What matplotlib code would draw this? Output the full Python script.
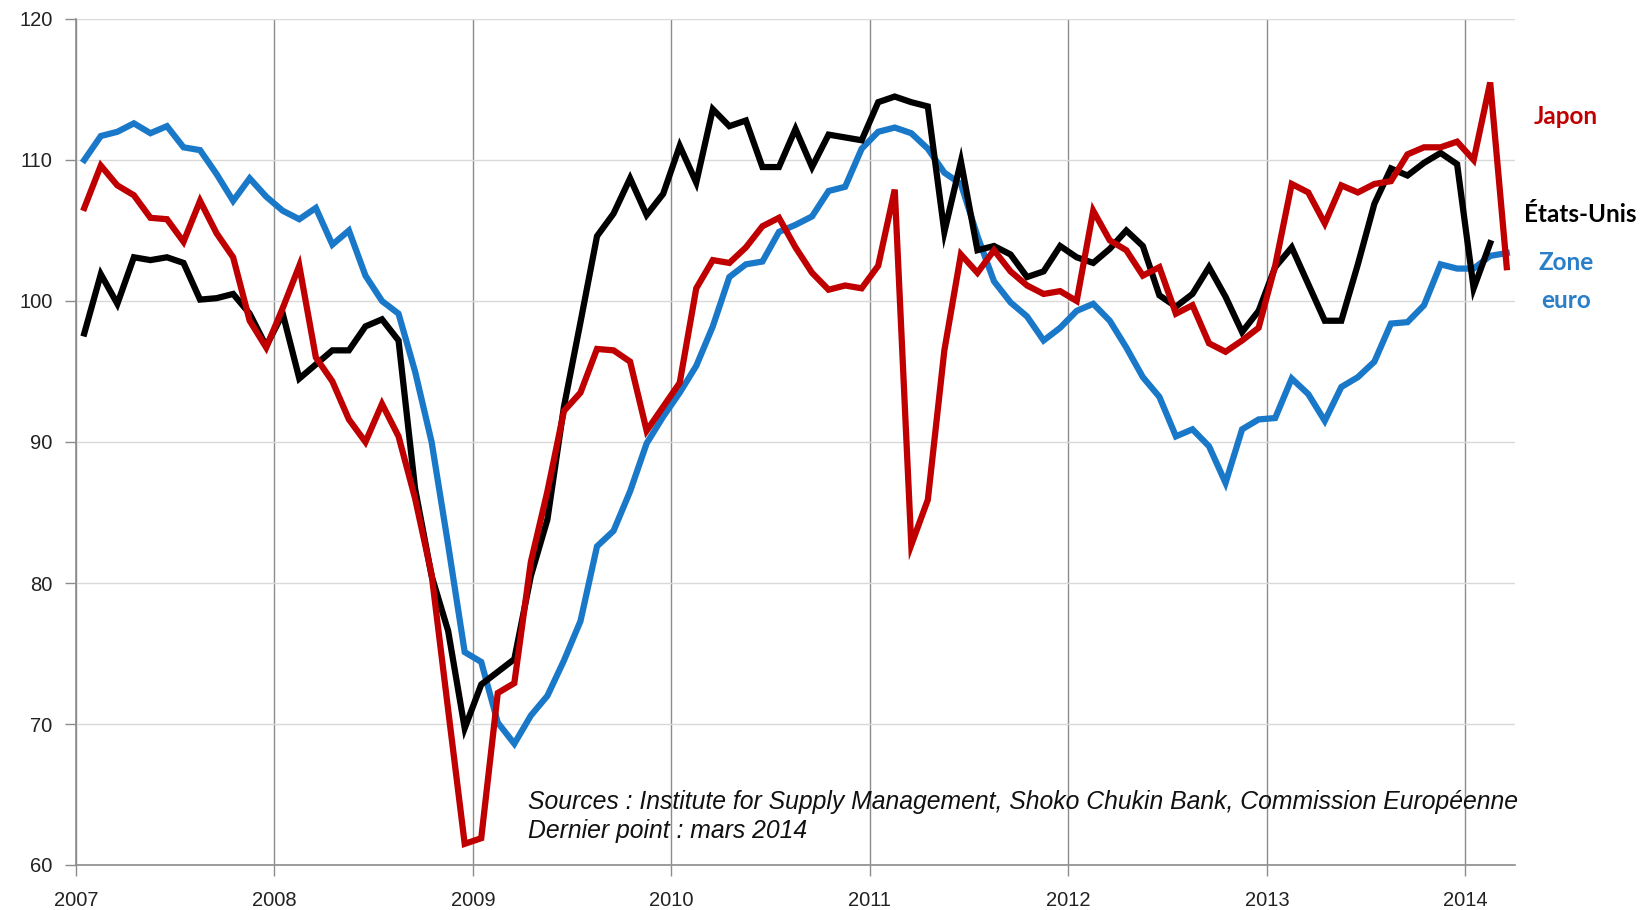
import numpy as np
import matplotlib
matplotlib.use("Agg")
import matplotlib.pyplot as plt

# ---------------- data (monthly, Jan 2007 -> Mar 2014) ----------------
start_year = 2007
etats_unis = [97.7, 101.9, 99.8, 103.1, 102.9, 103.1, 102.7, 100.1, 100.2, 100.5, 99.1, 96.8,
              99.1, 94.5, 95.5, 96.5, 96.5, 98.2, 98.7, 97.2, 86.7, 80.5, 76.6, 69.7,
              72.8, 73.7, 74.6, 80.5, 84.5, 92.5, 98.5, 104.6, 106.2, 108.7, 106.1, 107.6,
              111.0, 108.4, 113.6, 112.4, 112.8, 109.5, 109.5, 112.2, 109.5, 111.8, 111.6, 111.4,
              114.1, 114.5, 114.1, 113.8, 104.9, 109.9, 103.6, 103.9, 103.3, 101.7, 102.1, 103.9,
              103.1, 102.7, 103.7, 105.0, 103.9, 100.4, 99.6, 100.5, 102.4, 100.3, 97.8, 99.3,
              102.4, 103.8, 101.2, 98.6, 98.6, 102.6, 106.9, 109.4, 108.9, 109.8, 110.5, 109.7,
              100.9, 104.1]
japon = [106.6, 109.6, 108.2, 107.5, 105.9, 105.8, 104.2, 107.1, 104.8, 103.1, 98.6, 96.7,
         99.5, 102.5, 96.0, 94.3, 91.6, 90.0, 92.7, 90.4, 86.0, 80.6, 71.0, 61.5,
         61.9, 72.2, 72.9, 81.5, 86.5, 92.2, 93.5, 96.6, 96.5, 95.7, 90.8, 92.5,
         94.2, 100.9, 102.9, 102.7, 103.8, 105.3, 105.9, 103.8, 102.0, 100.8, 101.1, 100.9,
         102.5, 107.9, 82.7, 85.9, 96.5, 103.3, 102.0, 103.6, 102.1, 101.1, 100.5, 100.7,
         100.0, 106.4, 104.3, 103.6, 101.8, 102.4, 99.1, 99.7, 97.0, 96.4, 97.2, 98.1,
         102.5, 108.3, 107.7, 105.5, 108.2, 107.7, 108.3, 108.5, 110.4, 110.9, 110.9, 111.3,
         110.0, 115.5, 102.4]
zone_euro = [110.0, 111.7, 112.0, 112.6, 111.9, 112.4, 110.9, 110.7, 109.0, 107.1, 108.7, 107.4,
             106.4, 105.8, 106.6, 104.0, 105.0, 101.8, 100.0, 99.1, 95.0, 90.0, 82.7, 75.1,
             74.4, 70.1, 68.6, 70.6, 72.0, 74.5, 77.3, 82.6, 83.7, 86.5, 89.9, 91.8,
             93.5, 95.4, 98.2, 101.7, 102.6, 102.8, 104.9, 105.4, 106.0, 107.8, 108.1, 110.8,
             112.0, 112.3, 111.9, 110.8, 109.1, 108.3, 104.6, 101.4, 99.9, 98.9, 97.2, 98.1,
             99.3, 99.8, 98.6, 96.7, 94.6, 93.2, 90.4, 90.9, 89.7, 87.1, 90.9, 91.6,
             91.7, 94.5, 93.4, 91.5, 93.9, 94.6, 95.7, 98.4, 98.5, 99.7, 102.6, 102.3,
             102.3, 103.2, 103.4]
year_ticks = list(range(2007, 2015))
y_ticks = [60, 70, 80, 90, 100, 110, 120]

n_months = len(japon)
def xpos(n):
    return start_year + (np.arange(n) + 0.5) / 12.0

# ---------------- figure ----------------
W, H = 1650, 910
fig = plt.figure(figsize=(W / 100, H / 100), dpi=100)
ax = fig.add_axes([76 / W, 1 - 865 / H, (1515 - 76) / W, (865 - 19) / H])

RED = "#c00000"
BLUE = "#1a78c8"
BLACK = "#000000"
LW = 4.5

ax.plot(xpos(len(zone_euro)), zone_euro, color=BLUE, lw=LW, solid_joinstyle="miter", zorder=3)
ax.plot(xpos(len(etats_unis)), etats_unis, color=BLACK, lw=LW, solid_joinstyle="miter", zorder=4)
ax.plot(xpos(len(japon)), japon, color=RED, lw=LW, solid_joinstyle="miter", zorder=5)

ax.set_xlim(start_year, start_year + n_months / 12.0)
ax.set_ylim(60, 120)
ax.set_xticks(year_ticks)
ax.set_xticklabels([str(y) for y in year_ticks])
ax.set_yticks(y_ticks)

for s in ["top", "right"]:
    ax.spines[s].set_visible(False)
for s in ["left", "bottom"]:
    ax.spines[s].set_color("#8c8c8c")
    ax.spines[s].set_linewidth(1.2)

ax.yaxis.grid(True, color="#d9d9d9", lw=1.0)
ax.xaxis.grid(True, color="#8c8c8c", lw=1.0)
ax.set_axisbelow(True)

for lab in ax.get_xticklabels() + ax.get_yticklabels():
    lab.set_fontfamily(["Liberation Sans", "DejaVu Sans"])
    lab.set_fontsize(14.5)
    lab.set_color("#222222")
ax.tick_params(axis="both", direction="out", length=8, color="#8c8c8c", width=1.0)
ax.tick_params(axis="y", pad=9)
ax.tick_params(axis="x", pad=11)

# source note
src_font = dict(family=["Liberation Sans", "DejaVu Sans"], style="italic", size=17.8, color="#111111")
fig.text(528 / W, 1 - 802 / H, "Sources : Institute for Supply Management, Shoko Chukin Bank, Commission Européenne",
         ha="left", va="center", **src_font)
fig.text(528 / W, 1 - 831 / H, "Dernier point : mars 2014", ha="left", va="center", **src_font)

# series labels
lab_font = dict(family=["Lato", "DejaVu Sans"], weight="bold", size=17.5)
fig.text(1566 / W, 1 - 116 / H, "Japon", color=RED, ha="center", va="center", **lab_font)
fig.text(1580 / W, 1 - 214 / H, "États-Unis", color=BLACK, ha="center", va="center", **lab_font)
fig.text(1566 / W, 1 - 262 / H, "Zone", color="#2a7fc8", ha="center", va="center", **lab_font)
fig.text(1566 / W, 1 - 301 / H, "euro", color="#2a7fc8", ha="center", va="center", **lab_font)

fig.savefig("out.png", dpi=100, facecolor="white")
